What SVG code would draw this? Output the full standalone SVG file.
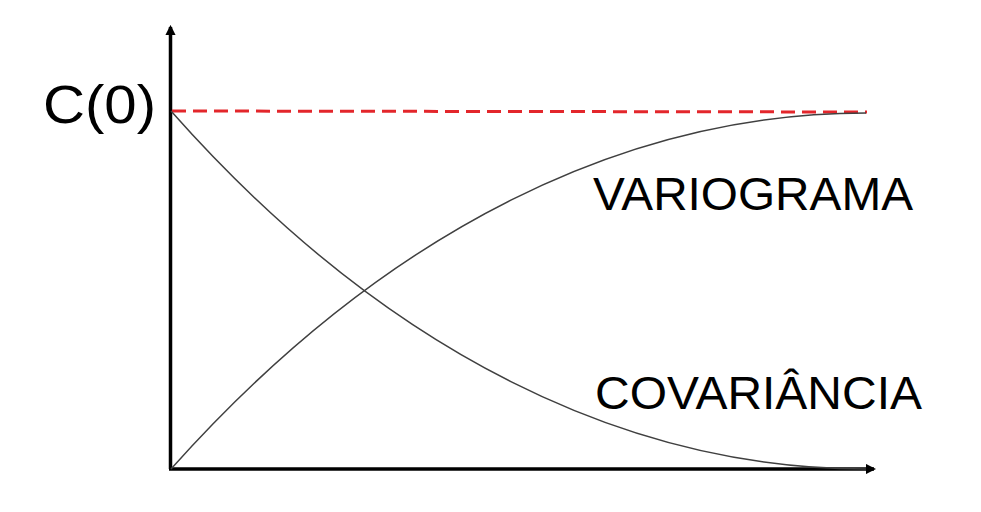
<svg xmlns="http://www.w3.org/2000/svg" width="981" height="512" viewBox="0 0 981 512">
<style>
.lbl{font-family:"Liberation Sans",Arial,sans-serif;fill:#000}
.curve{fill:none;stroke:#404040;stroke-width:1.5}
.axis{fill:none;stroke:#000;stroke-width:3.5}
.sill{fill:none;stroke:#e3262b;stroke-width:3;stroke-dasharray:14 7}
</style>
<defs>
<marker id="arr" viewBox="0 0 10 10" refX="8" refY="5" markerWidth="3" markerHeight="3" orient="auto" markerUnits="strokeWidth">
<path d="M0,0 L10,5 L0,10 z" fill="#000"/>
</marker>
</defs>
<rect width="981" height="512" fill="#fff"/>
<g id="axes">
<line class="axis" x1="170.5" y1="469" x2="170.5" y2="27" marker-end="url(#arr)"/>
<line class="axis" x1="169" y1="469" x2="874" y2="469" marker-end="url(#arr)"/>
</g>
<g id="connectors">
<line class="sill" x1="172" y1="111" x2="867" y2="112"/>
<path id="covariancia-curve" class="curve" d="M171,111 C388,356 630,469 866,469"/>
<path id="variograma-curve" class="curve" d="M171,469 C388,226 630,113 866,113"/>
</g>
<g id="c0"><text class="lbl" x="43" y="123" font-size="53" textLength="113" lengthAdjust="spacingAndGlyphs">C(0)</text></g>
<g id="variograma"><text class="lbl" x="593" y="209.5" font-size="46.5" textLength="320" lengthAdjust="spacingAndGlyphs">VARIOGRAMA</text></g>
<g id="covariancia"><text class="lbl" x="595" y="408.5" font-size="46.5" textLength="327" lengthAdjust="spacingAndGlyphs">COVARIÂNCIA</text></g>
</svg>
